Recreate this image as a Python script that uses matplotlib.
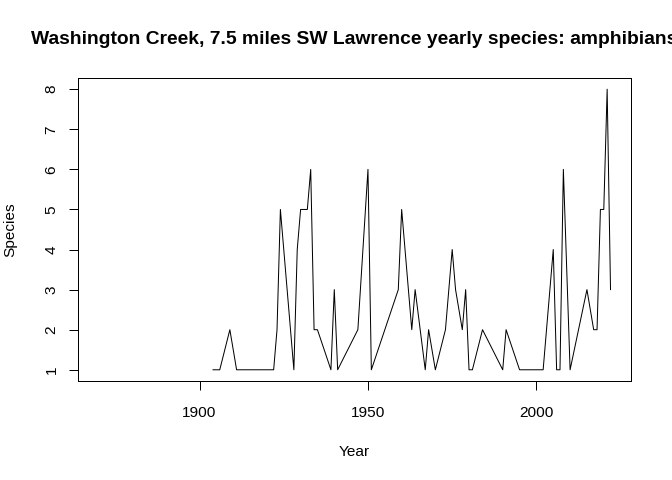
import numpy as np
import matplotlib
matplotlib.use("Agg")
import matplotlib.pyplot as plt

plt.rcParams['font.family'] = ['Liberation Sans', 'DejaVu Sans']

# yearly species counts
years = [1904, 1906, 1909, 1911, 1922, 1923, 1924, 1928, 1929, 1930, 1932, 1933,
         1934, 1935, 1939, 1940, 1941, 1947, 1950, 1951, 1959, 1960, 1963, 1964,
         1967, 1968, 1970, 1973, 1975, 1976, 1978, 1979, 1980, 1981, 1984, 1990,
         1991, 1995, 2002, 2005, 2006, 2007, 2008, 2010, 2015, 2017, 2018, 2019,
         2020, 2021, 2022]
species = [1, 1, 2, 1, 1, 2, 5, 1, 4, 5, 5, 6,
           2, 2, 1, 3, 1, 2, 6, 1, 3, 5, 2, 3,
           1, 2, 1, 2, 4, 3, 2, 3, 1, 1, 2, 1,
           2, 1, 1, 4, 1, 1, 6, 1, 3, 2, 2, 5,
           5, 8, 3]
first_year = 1870  # data range starts here (no records before ~1904)
title = "Washington Creek, 7.5 miles SW Lawrence yearly species: amphibians"

W, H = 672, 480
fig = plt.figure(figsize=(W / 96, H / 96), dpi=96)
ax = fig.add_axes([78 / W, 1 - 381 / H, (631 - 78) / W, (381 - 78) / H])

ax.plot(years, species, color="black", lw=0.75)

span = years[-1] - first_year
ax.set_xlim(first_year - 0.04 * span, years[-1] + 0.04 * span)
ax.set_ylim(1 - 0.04 * 7, 8 + 0.04 * 7)
ax.set_xticks([1900, 1950, 2000])
ax.set_yticks(range(1, 9))
ax.tick_params(direction="out", length=7, width=0.75, labelsize=11.5)
ax.tick_params(axis="x", pad=11.5)
ax.tick_params(axis="y", pad=7.5)
for lab in ax.get_yticklabels():
    lab.set_rotation(90)
    lab.set_va("center")
for s in ax.spines.values():
    s.set_linewidth(0.75)

fig.text(354.5 / W, 1 - 456 / H, "Year", ha="center", va="baseline", fontsize=11.5)
fig.text(10 / W, 1 - 229.5 / H, "Species", ha="center", va="center",
         rotation=90, fontsize=11.5)
# title is wider than the figure, clipped at the right edge as in the reference
fig.text(354.5 / W, 1 - 44.3 / H, title, ha="center", va="baseline",
         fontsize=14.4, fontweight="bold")

fig.savefig("out.png", dpi=96)
